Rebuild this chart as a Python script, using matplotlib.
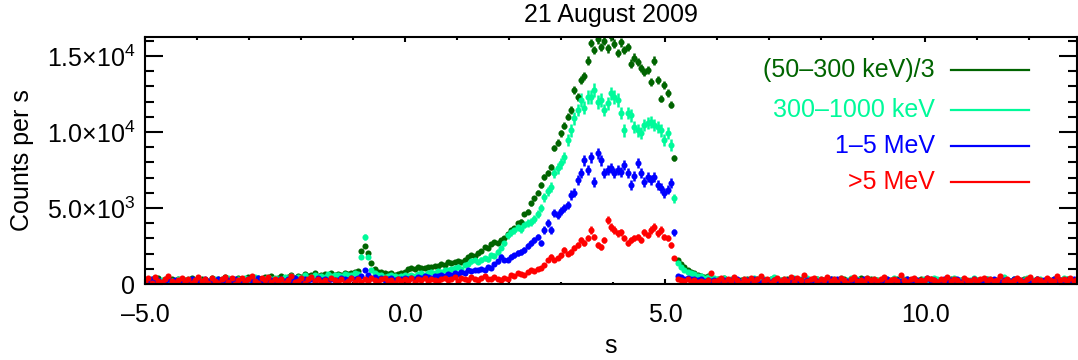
import numpy as np
import matplotlib.pyplot as plt
from matplotlib.ticker import MultipleLocator, FixedLocator, FixedFormatter

plt.rcParams['font.family'] = ['Liberation Sans', 'DejaVu Sans']
plt.rcParams['mathtext.fontset'] = 'custom'
plt.rcParams['mathtext.rm'] = 'Liberation Sans'
plt.rcParams['mathtext.default'] = 'regular'

# light curve, 64 ms bins starting at -5 s
bin_width = 0.064
t_start = -5.0

# (50-300 keV)/3
green_pre = [180, 320, 90, 260, 410, 150, 230, 60, 300, 200,
             350, 120, 280, 190, 420, 240, 110, 330, 270, 160,
             380, 220, 300, 140, 450, 260, 340, 180, 400, 290,
             230, 470, 350, 260, 390, 200, 430, 320, 500, 280,
             420, 550, 360, 480, 610, 390, 520, 450, 640, 500,
             580, 700, 470, 620, 660, 540, 720, 600, 680, 560,
             750, 640, 700, 820]
green_spike = [850, 2170, 2500, 2040, 1380, 990, 820, 760, 700, 650, 720, 580, 640, 750, 820]
green_rise = [1000, 1050, 980, 1100, 1080, 1020, 1150, 1100, 1200, 1180,
              1300, 1250, 1450, 1380, 1420, 1500, 1450, 1600, 1750, 1900,
              1850, 2050, 2200, 2450, 2350, 2600, 2750, 2700, 2900, 3000,
              3300, 3550, 3700, 4000, 4100, 4600, 4750, 5300, 5650, 6000,
              6500, 7050, 7300, 7700, 8950, 9300, 9930, 10400, 11000, 11450,
              12760, 12300, 13400, 13700, 14700, 15850, 15400, 16100, 15600, 16000,
              15500, 16300, 15800, 15200, 15900, 15400, 15600, 14500, 14900, 14600,
              14200, 13950, 14100, 13300, 14700, 13400, 12200, 13100, 12550, 11800,
              8300]
green_post = [1580, 1300, 1100, 900, 800, 700, 600, 550, 450, 500, 400, 350]
green_tail = [300, 220, 380, 150, 260, 330, 190, 270, 120, 310,
              240, 180, 350, 210, 280, 140, 320, 230, 170, 290,
              200, 360, 250, 130, 300, 220, 340, 160, 270, 190,
              310, 240, 110, 280, 350, 200, 260, 170, 330, 230,
              150, 290, 220, 370, 180, 250, 300, 140, 260, 210,
              330, 190, 270, 120, 300, 240, 180, 350, 220, 280,
              160, 310, 230, 200, 340, 150, 270, 290, 190, 250,
              320, 210, 140, 280, 360, 230, 170, 300, 250, 190,
              270, 330, 200, 240, 150, 310, 220, 280, 180, 350,
              260, 130, 300, 210, 270, 190, 340, 240, 160, 290,
              230, 310, 180, 260, 200, 350, 150, 280, 240, 300]

# 300-1000 keV
cyan_pre = [250, 120, 310, 200, 80, 280, 360, 170, 230, 140,
            300, 210, 90, 330, 260, 180, 400, 150, 280, 220,
            130, 350, 240, 310, 190, 420, 270, 160, 340, 230,
            380, 290, 210, 440, 320, 250, 360, 480, 300, 410,
            350, 270, 460, 390, 530, 310, 450, 380, 560, 420,
            490, 600, 430, 540, 470, 650, 520, 580, 610, 500,
            680, 560, 620, 700]
cyan_spike = [650, 1780, 3100, 1780, 950, 700, 560, 620, 480, 550, 600, 500, 450, 520, 580]
cyan_rise = [550, 600, 500, 650, 700, 600, 750, 800, 700, 850,
             800, 950, 900, 1000, 1050, 1100, 1000, 1250, 1300, 1500,
             1580, 1450, 1600, 1700, 1640, 1900, 1850, 2100, 2400, 2700,
             3200, 3400, 3550, 3750, 3600, 3900, 4000, 4080, 4300, 4600,
             5000, 5700, 6100, 6400, 7300, 7600, 7950, 8350, 9470, 10100,
             10900, 11450, 12100, 11600, 12300, 12300, 12760, 11970, 12100, 11450,
             11900, 12550, 12300, 12100, 11250, 10100, 11250, 11100, 10330, 10100,
             9930, 10460, 10600, 10650, 10460, 10330, 10100, 9470, 9930, 9140,
             5650]
cyan_post = [1380, 1100, 950, 800, 720, 650, 550, 500, 400, 450, 350, 380]
cyan_tail = [350, 270, 420, 200, 310, 380, 240, 160, 330, 290,
             210, 400, 270, 180, 340, 250, 300, 430, 190, 260,
             320, 150, 280, 370, 230, 310, 200, 410, 270, 180,
             300, 360, 220, 260, 140, 330, 280, 390, 210, 250,
             370, 230, 300, 180, 270, 420, 200, 310, 250, 160,
             280, 340, 220, 400, 190, 260, 310, 150, 290, 360,
             240, 180, 330, 270, 210, 380, 300, 230, 170, 320,
             260, 390, 200, 280, 330, 170, 250, 410, 220, 290,
             190, 310, 360, 240, 280, 200, 430, 260, 180, 300,
             340, 220, 270, 380, 160, 290, 250, 320, 200, 360,
             240, 180, 310, 270, 400, 220, 290, 190, 350, 260]

# 1-5 MeV
blue_pre = [210, 80, 300, 150, 260, 40, 190, 330, 120, 240,
            170, 280, 60, 220, 350, 140, 250, 100, 310, 190,
            230, 120, 360, 200, 70, 290, 170, 340, 110, 260,
            180, 320, 240, 90, 380, 210, 150, 300, 260, 130,
            270, 350, 190, 310, 230, 400, 280, 160, 340, 250,
            300, 220, 380, 270, 330, 200, 360, 290, 250, 410,
            320, 280, 370, 300]
blue_spike = [420, 550, 900, 600, 380, 450, 300, 380, 260, 340, 400, 290, 360, 310, 420]
blue_rise = [350, 400, 300, 450, 400, 500, 450, 400, 550, 500,
             600, 550, 650, 600, 700, 650, 800, 750, 900, 850,
             950, 900, 1000, 900, 1100, 1050, 1300, 1500, 1780, 1580,
             1600, 1780, 1900, 2040, 2100, 2240, 2500, 2700, 2900, 3100,
             2700, 3550, 4000, 3550, 4650, 4550, 4800, 5000, 5200, 5850,
             6000, 6850, 7300, 8150, 7500, 8350, 6700, 8600, 8150, 7300,
             7500, 7630, 7300, 7500, 7370, 7830, 7300, 6500, 7100, 7960,
             7300, 6700, 7040, 6840, 7040, 6500, 6300, 5990, 6200, 6650,
             3420]
blue_post = [500, 450, 350, 400, 300, 350, 250, 300, 200, 280, 220, 250]
blue_tail = [200, 130, 280, 90, 240, 170, 320, 110, 220, 260,
             150, 300, 190, 70, 250, 210, 140, 290, 180, 230,
             100, 270, 200, 330, 160, 240, 120, 280, 190, 310,
             220, 150, 260, 90, 300, 180, 350, 140, 230, 200,
             270, 110, 240, 190, 320, 160, 210, 290, 130, 250,
             180, 340, 220, 100, 270, 200, 150, 310, 240, 170,
             290, 120, 230, 380, 190, 260, 140, 210, 300, 160,
             240, 190, 330, 110, 270, 220, 170, 300, 130, 250,
             200, 280, 150, 360, 210, 120, 260, 230, 180, 310,
             140, 250, 200, 290, 90, 230, 330, 170, 260, 190,
             220, 300, 160, 240, 120, 280, 200, 350, 180, 250]

# >5 MeV
red_pre = [150, 380, 60, 450, 220, 100, 300, 500, 180, 40,
           260, 410, 120, 350, 70, 280, 460, 190, 330, 90,
           400, 230, 50, 310, 480, 160, 370, 20, 250, 420,
           130, 340, 540, 210, 80, 390, 270, 450, 110, 300,
           180, 360, 60, 280, 500, 150, 230, 410, 90, 320,
           440, 200, 350, 120, 270, 30, 380, 240, 160, 310,
           90, 230, 410, 150]
red_spike = [300, 120, 350, 200, 380, 260, 150, 320, 420, 180, 260, 90, 340, 210, 300]
red_rise = [220, 380, 150, 300, 250, 420, 180, 330, 270, 200,
            350, 410, 260, 300, 470, 220, 380, 330, 290, 450,
            360, 280, 420, 500, 350, 310, 460, 300, 260, 400,
            350, 600, 500, 720, 650, 600, 800, 920, 850, 1000,
            1050, 1250, 1580, 1780, 1580, 1710, 1900, 2240, 2000, 2100,
            2400, 2570, 2900, 2700, 3030, 3550, 3100, 2570, 2440, 2900,
            4200, 3750, 3550, 3350, 3420, 3030, 2700, 2900, 3030, 3100,
            2900, 3420, 3220, 3550, 3750, 3350, 3550, 3100, 3030, 2570,
            1710]
red_post = [300, 250, 200, 350, 150, 250, 100, 200, 150, 250, 700, 200]
red_tail = [250, 400, 120, 330, 180, 480, 260, 90, 350, 210,
            420, 150, 300, 520, 200, 340, 80, 280, 390, 170,
            310, 230, 460, 140, 370, 260, 560, 190, 300, 410,
            120, 350, 270, 440, 200, 320, 160, 380, 250, 90,
            330, 470, 210, 290, 150, 400, 240, 360, 180, 300,
            430, 110, 270, 350, 200, 600, 260, 140, 320, 380,
            220, 290, 170, 410, 310, 240, 130, 360, 270, 450,
            190, 330, 250, 90, 390, 280, 200, 340, 150, 310,
            420, 230, 360, 180, 290, 520, 210, 330, 130, 270,
            380, 240, 160, 310, 440, 200, 350, 260, 120, 400,
            290, 180, 530, 250, 330, 170, 380, 220, 300, 260]

green = green_pre + green_spike + green_rise + green_post + green_tail
cyan = cyan_pre + cyan_spike + cyan_rise + cyan_post + cyan_tail
blue = blue_pre + blue_spike + blue_rise + blue_post + blue_tail
red = red_pre + red_spike + red_rise + red_post + red_tail

labels = ['(50\u2013300 keV)/3', '300\u20131000 keV', '1\u20135 MeV', '>5 MeV']
colors = ['#006400', '#00FA9A', '#0000FF', '#FF0000']
scales = [3, 1, 1, 1]

x_ticks = [-5, 0, 5, 10]
x_ticklabels = ['\u20135.0', '0.0', '5.0', '10.0']
y_ticks = [0, 5000, 10000, 15000]
y_ticklabels = ['0', '5.0\u00d710$^{3}$', '1.0\u00d710$^{4}$', '1.5\u00d710$^{4}$']

time = t_start + bin_width * np.arange(len(green))

fig = plt.figure(figsize=(10.78, 3.6), dpi=100)
ax = fig.add_axes([145 / 1078, 76 / 360, 932 / 1078, 247 / 360])

for vals, col, sc in zip([green, cyan, blue, red], colors, scales):
    v = np.array(vals, dtype=float)
    # poisson error for the bin (scaled band divided by sc)
    err = np.sqrt(np.clip(v, 150, None) * sc / bin_width) / sc
    ax.errorbar(time, v, yerr=err, fmt='o', ms=4.4, mew=0, color=col,
                ecolor=col, elinewidth=1.8, capsize=0)

ax.set_xlim(-5, 12.92)
ax.set_ylim(0, 16250)

ax.xaxis.set_major_locator(FixedLocator(x_ticks))
ax.xaxis.set_major_formatter(FixedFormatter(x_ticklabels))
ax.xaxis.set_minor_locator(MultipleLocator(1))
ax.yaxis.set_major_locator(FixedLocator(y_ticks))
ax.yaxis.set_major_formatter(FixedFormatter(y_ticklabels))
ax.yaxis.set_minor_locator(MultipleLocator(1000))

ax.tick_params(which='both', direction='in', top=True, right=True, width=1.5, labelsize=18)
ax.tick_params(axis='x', which='major', length=3.6, pad=14)
ax.tick_params(axis='x', which='minor', length=1.8)
ax.tick_params(axis='y', which='major', length=13, pad=7)
ax.tick_params(axis='y', which='minor', length=6.5)
for s in ax.spines.values():
    s.set_linewidth(1.5)

# legend drawn by hand: right aligned text, line to the right
rows = [0.866, 0.704, 0.559, 0.413]
for lab, col, yy in zip(labels, colors, rows):
    ax.text(0.8476, yy, lab, color=col, fontsize=18, ha='right', va='center', transform=ax.transAxes)
    ax.plot([0.865, 0.9485], [yy, yy], color=col, lw=1.6, transform=ax.transAxes)

fig.text(611 / 1078, 1 - 15 / 360, '21 August 2009', fontsize=18, ha='center', va='center')
fig.text(22 / 1078, 1 - 160 / 360, 'Counts per s', fontsize=18, rotation=90, ha='center', va='center')
fig.text(611 / 1078, 1 - 346 / 360, 's', fontsize=18, ha='center', va='center')

fig.savefig('out.png', dpi=100)
